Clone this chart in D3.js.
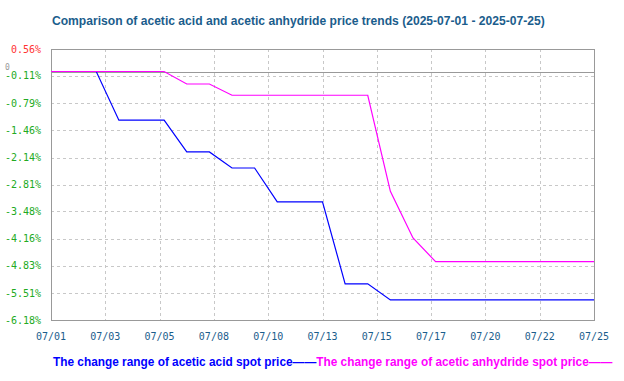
<!DOCTYPE html>
<html><head><meta charset="utf-8">
<script src="https://cdn.jsdelivr.net/npm/d3@7"></script>
<style>body{margin:0;background:#fff}svg{display:block}</style>
</head><body><div id="chart"></div>
<script>
const dates = ["07/01","07/02","07/03","07/04","07/05","07/06","07/07","07/08","07/09","07/10","07/11","07/12","07/13","07/14","07/15","07/16","07/17","07/18","07/19","07/20","07/21","07/22","07/23","07/24","07/25"];
const aceticAcid = [0,0,0,-1.21,-1.21,-1.21,-2.00,-2.00,-2.40,-2.40,-3.24,-3.24,-3.24,-5.28,-5.28,-5.68,-5.68,-5.68,-5.68,-5.68,-5.68,-5.68,-5.68,-5.68,-5.68];
const aceticAnhydride = [0,0,0,0,0,0,-0.31,-0.31,-0.59,-0.59,-0.59,-0.59,-0.59,-0.59,-0.59,-2.98,-4.14,-4.73,-4.73,-4.73,-4.73,-4.73,-4.73,-4.73,-4.73];
const yTickValues = [0.56,-0.11,-0.79,-1.46,-2.14,-2.81,-3.48,-4.16,-4.83,-5.51,-6.18];
const yTickLabels = ["0.56%","-0.11%","-0.79%","-1.46%","-2.14%","-2.81%","-3.48%","-4.16%","-4.83%","-5.51%","-6.18%"];
const xTickLabels = ["07/01","07/03","07/05","07/08","07/10","07/13","07/15","07/17","07/20","07/22","07/25"];
const title = "Comparison of acetic acid and acetic anhydride price trends (2025-07-01 - 2025-07-25)";
const legendLabels = ["The change range of acetic acid spot price","The change range of acetic anhydride spot price"];
const colors = ["#0000ff","#ff00ff"];

const W = 624, H = 381;
const L = 51, R = 594, T = 49, B = 320;
const svg = d3.select("#chart").append("svg").attr("width", W).attr("height", H);

const x = d3.scaleLinear().domain([0, dates.length - 1]).range([L, R]);
const y = d3.scaleLinear().domain([-6.18, 0.56]).range([B, T]);
const xt = d3.scaleLinear().domain([0, xTickLabels.length - 1]).range([L, R]);

// title
svg.append("text").attr("x", 52).attr("y", 25).text(title)
  .attr("font-family", "Liberation Sans, Arial, sans-serif").attr("font-size", 12.1)
  .attr("font-weight", "bold").attr("fill", "#1b5d8c");

// grid
const g = svg.append("g").attr("shape-rendering", "crispEdges");
g.selectAll(".hg").data(yTickValues.slice(1, -1)).join("line")
  .attr("x1", L).attr("x2", R).attr("y1", d => Math.round(y(d)) + 0.5).attr("y2", d => Math.round(y(d)) + 0.5)
  .attr("stroke", "#c8c8c8").attr("stroke-dasharray", "3,3");
g.selectAll(".vg").data(d3.range(1, xTickLabels.length - 1)).join("line")
  .attr("y1", T).attr("y2", B).attr("x1", d => Math.round(xt(d)) + 0.5).attr("x2", d => Math.round(xt(d)) + 0.5)
  .attr("stroke", "#c8c8c8").attr("stroke-dasharray", "3,3");
// zero line
g.append("line").attr("x1", L).attr("x2", R).attr("y1", Math.round(y(0)) + 0.5).attr("y2", Math.round(y(0)) + 0.5)
  .attr("stroke", "#999");
// border
g.append("rect").attr("x", L + 0.5).attr("y", T + 0.5).attr("width", R - L).attr("height", B - T)
  .attr("fill", "none").attr("stroke", "#999").attr("stroke-width", 1.5);

// y labels
const mono = "DejaVu Sans Mono, monospace";
svg.selectAll(".yl").data(yTickValues).join("text")
  .attr("x", 41).attr("y", d => y(d) + 3.5).attr("text-anchor", "end")
  .attr("font-family", mono).attr("font-size", 10)
  .attr("fill", (d, i) => i === 0 ? "#ff3333" : "#22aa22")
  .text((d, i) => yTickLabels[i]);
svg.append("text").attr("x", 5).attr("y", y(0) - 2).text("0")
  .attr("font-family", mono).attr("font-size", 8).attr("fill", "#999");

// x labels
svg.selectAll(".xl").data(xTickLabels).join("text")
  .attr("x", (d, i) => xt(i)).attr("y", 340).attr("text-anchor", "middle")
  .attr("font-family", mono).attr("font-size", 10).attr("fill", "#1b5d8c").text(d => d);

// lines
const line = d3.line().x((d, i) => x(i)).y(d => y(d));
[aceticAcid, aceticAnhydride].forEach((s, k) => {
  svg.append("path").datum(s).attr("d", line).attr("fill", "none")
    .attr("stroke", colors[k]).attr("stroke-width", 1.2);
});

// legend
const leg = svg.append("text").attr("x", 53).attr("y", 366)
  .attr("font-family", "Liberation Sans, Arial, sans-serif").attr("font-size", 11.85).attr("font-weight", "bold");
legendLabels.forEach((t, k) => {
  leg.append("tspan").attr("fill", colors[k]).text(t + "——");
});
</script>
</body></html>
